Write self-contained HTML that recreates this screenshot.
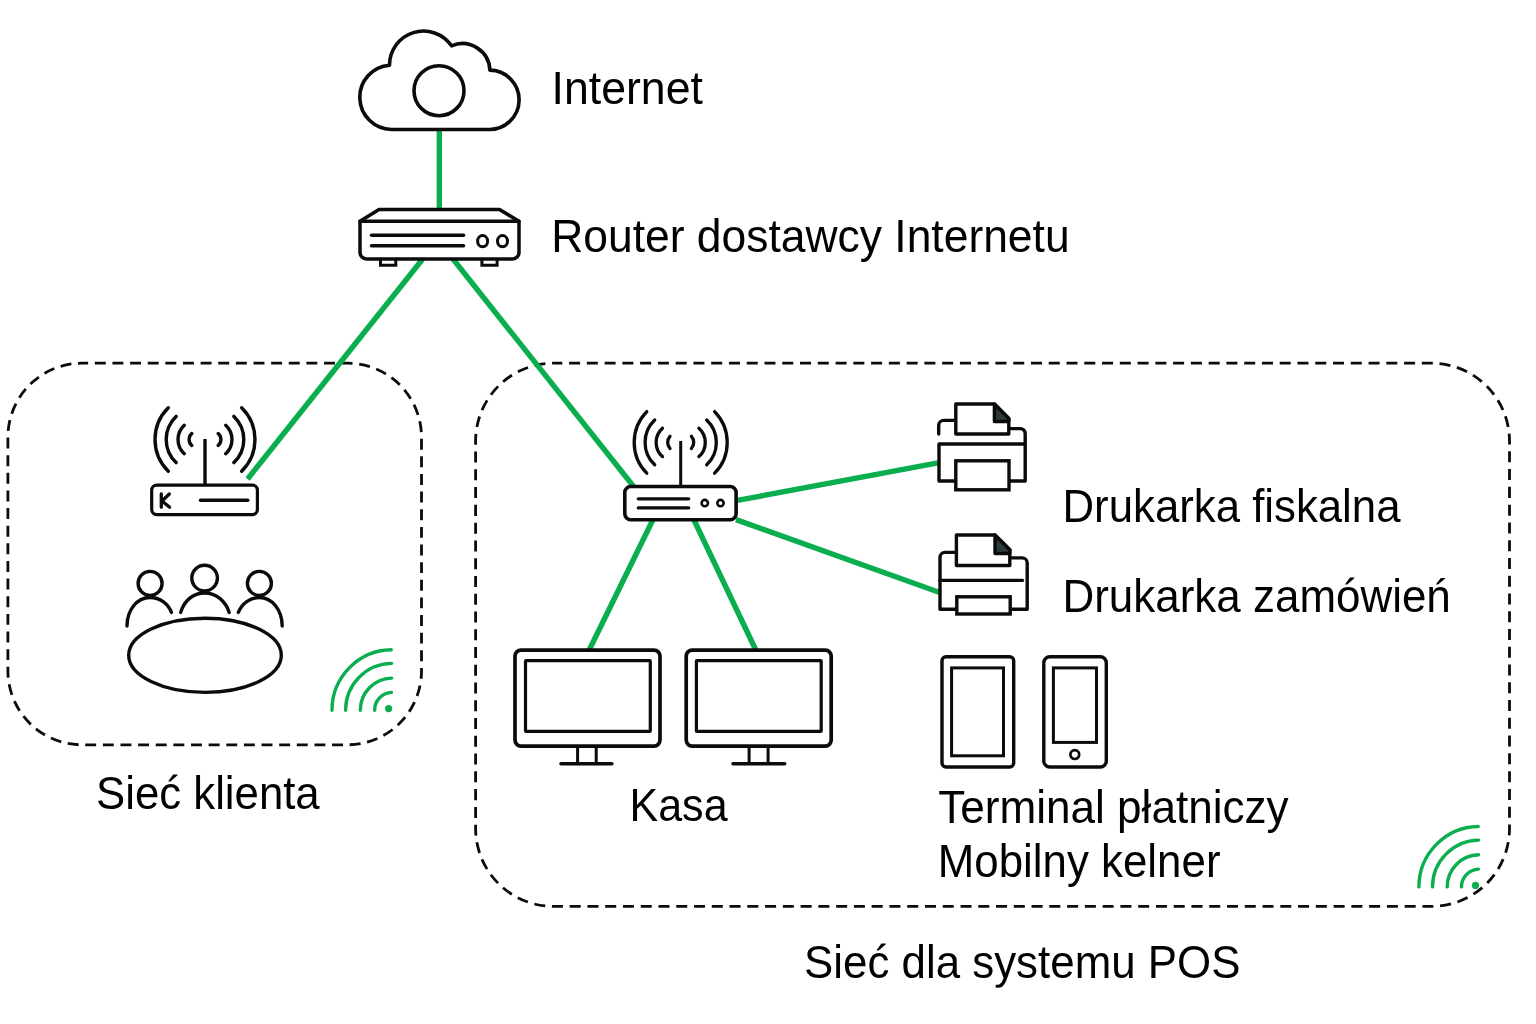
<!DOCTYPE html>
<html><head><meta charset="utf-8">
<style>
html,body{margin:0;padding:0;background:#fff;}
body{width:1536px;height:1024px;overflow:hidden;}
svg{display:block;}
text{font-family:"Liberation Sans",sans-serif;font-size:45.5px;fill:#000;}
.k{stroke:#0b0b0b;fill:none;stroke-linecap:round;stroke-linejoin:round;}
.g{stroke:#0aae4e;fill:none;}
</style></head><body>
<svg width="1536" height="1024" viewBox="0 0 1536 1024">
<rect width="1536" height="1024" fill="#fff"/>

<!-- dashed boxes -->
<rect x="7.9" y="363.2" width="413.6" height="381.6" rx="74" ry="74" fill="none" stroke="#0b0b0b" stroke-width="2.8" stroke-dasharray="10.931 6.700" stroke-dashoffset="4.7"/>
<rect x="475.6" y="363.2" width="1033.9" height="543.2" rx="78" ry="78" fill="none" stroke="#0b0b0b" stroke-width="2.8" stroke-dasharray="11.015 6.751" stroke-dashoffset="2.3"/>

<!-- green links -->
<g class="g" stroke-width="5.4">
<line x1="439.3" y1="130" x2="439.3" y2="210"/>
<line x1="422.7" y1="259" x2="247.6" y2="479"/>
<line x1="453" y1="259" x2="634" y2="487"/>
<line x1="736" y1="500.7" x2="938" y2="462.8"/>
<line x1="736" y1="519.6" x2="939" y2="592.3"/>
<line x1="652.8" y1="520" x2="589.2" y2="650"/>
<line x1="694" y1="520" x2="755.8" y2="650"/>
</g>

<!-- cloud -->
<g class="k" stroke-width="3.6">
<path fill="#fff" d="M391.6,129.5 H488.9 A29.7,29.7 0 0 0 489.9,70.1 A27.6,27.6 0 0 0 451.5,45.8 A34.0,34.0 0 0 0 389.5,65.2 A32.2,32.2 0 0 0 391.6,129.5 Z"/>
<circle cx="439" cy="90.7" r="25"/>
</g>

<!-- ISP router -->
<g class="k" stroke-width="3.5">
<path fill="#fff" d="M380.5,259 V265.3 H395.8 V259 M481.9,259 V265.3 H497.1 V259" stroke-width="3" stroke-linejoin="miter"/>
<path fill="#fff" d="M360,221.3 L379,209.5 H499.5 L519,221.3 V252.5 A6.5,6.5 0 0 1 512.5,259 H366.5 A6.5,6.5 0 0 1 360,252.5 Z"/>
<line x1="360" y1="221.3" x2="519" y2="221.3"/>
<line x1="371.5" y1="235.3" x2="463.5" y2="235.3"/>
<line x1="371.5" y1="245.7" x2="463.5" y2="245.7"/>
<ellipse cx="482.6" cy="241.2" rx="5" ry="5.6" stroke-width="3"/>
<ellipse cx="502.5" cy="241.2" rx="5" ry="5.6" stroke-width="3"/>
</g>

<!-- client router -->
<g class="k" stroke-width="3.4">
<path d="M168.3,407.7 A44.7,44.7 0 0 0 168.3,471.3 M241.7,407.7 A44.7,44.7 0 0 1 241.7,471.3 M176.1,416.4 A31.9,31.9 0 0 0 176.1,462.6 M233.9,416.4 A31.9,31.9 0 0 1 233.9,462.6 M184.3,425.3 A19.2,19.2 0 0 0 184.3,453.7 M225.7,425.3 A19.2,19.2 0 0 1 225.7,453.7 M191.8,433.5 A8.0,8.0 0 0 0 191.8,445.5 M218.2,433.5 A8.0,8.0 0 0 1 218.2,445.5"/>
<line x1="205" y1="439" x2="205" y2="485" stroke-linecap="butt"/>
<rect x="151.7" y="485.1" width="105.7" height="29.5" rx="5" fill="#fff" stroke-width="3.2"/>
<line x1="200.5" y1="500.3" x2="247.8" y2="500.3"/>
<path d="M161.3,494 V507.2 M169.3,494 L162,501 L169.6,507.2" stroke-width="3.3"/>
</g>
<!-- POS router -->
<g class="k" stroke-width="3.3">
<path d="M646.8,411.6 A43.9,43.9 0 0 0 646.8,473.2 M714.6,411.6 A43.9,43.9 0 0 1 714.6,473.2 M654.7,420.0 A30.9,30.9 0 0 0 654.7,464.8 M706.7,420.0 A30.9,30.9 0 0 1 706.7,464.8 M662.5,428.2 A19.0,19.0 0 0 0 662.5,456.6 M698.9,428.2 A19.0,19.0 0 0 1 698.9,456.6 M670.0,436.3 A9.2,9.2 0 0 0 670.0,448.5 M691.4,436.3 A9.2,9.2 0 0 1 691.4,448.5"/>
<line x1="680.7" y1="441" x2="680.7" y2="486" stroke-linecap="butt" stroke-width="3"/>
<rect x="624.8" y="486.5" width="111.3" height="33.3" rx="6" fill="#fff" stroke-width="3.6"/>
<line x1="638.3" y1="498.8" x2="688.7" y2="498.8"/>
<line x1="638.3" y1="507.9" x2="688.7" y2="507.9"/>
<circle cx="704.8" cy="503.1" r="3.2" stroke-width="2.6"/>
<circle cx="720.5" cy="503.1" r="3.2" stroke-width="2.6"/>
</g>
<!-- people -->
<g class="k" stroke-width="3.4">
<circle cx="150.1" cy="583.4" r="12"/><circle cx="204.6" cy="578.1" r="12.8"/><circle cx="259.4" cy="583.4" r="12"/>
<path d="M127,626 C127,610 137,597.5 150,597.5 C160,597.5 168,603.5 171.5,612.4"/>
<path d="M180.7,612.4 C184,601 193,593 204.6,593 C216,593 225.5,601 229.2,612.4"/>
<path d="M238.3,612.4 C242,603.5 250,597.5 259.4,597.5 C272,597.5 282.2,610 282.2,626"/>
<ellipse cx="205" cy="655.3" rx="76.3" ry="37.1" fill="#fff"/>
</g>
<!-- wifi -->
<g class="g" stroke-width="3.4" stroke-linecap="round">
<path d="M374.6,710.2 A17.8,17.8 0 0 1 391.5,692.4 M360.3,710.2 A32.1,32.1 0 0 1 391.6,678.1 M345.6,710.2 A46.8,46.8 0 0 1 391.6,663.4 M332.0,710.2 A60.4,60.4 0 0 1 391.3,649.8"/><circle cx="388.6" cy="708.6" r="3.6" fill="#0aae4e" stroke="none"/>
<path d="M1461.5,886.9 A17.8,17.8 0 0 1 1478.4,869.1 M1447.2,886.9 A32.1,32.1 0 0 1 1478.5,854.8 M1432.5,886.9 A46.8,46.8 0 0 1 1478.5,840.1 M1418.9,886.9 A60.4,60.4 0 0 1 1478.2,826.5"/><circle cx="1475.5" cy="885.4" r="3.6" fill="#0aae4e" stroke="none"/>
</g>
<!-- monitors -->
<g class="k">
<rect x="515" y="650.1" width="145" height="96" rx="6" fill="#fff" stroke-width="3.7"/>
<rect x="525.5" y="660.7" width="124.8" height="70.7" rx="0.5" stroke-width="3.2" stroke-linejoin="miter"/>
<path d="M577.6,748 V763.7 M596.2,748 V763.7" stroke-width="3" stroke-linecap="butt"/>
<line x1="561" y1="763.7" x2="611.8" y2="763.7" stroke-width="3.5"/>
<rect x="686.2" y="650.1" width="145" height="96" rx="6" fill="#fff" stroke-width="3.7"/>
<rect x="696.4" y="660.7" width="124.8" height="70.7" rx="0.5" stroke-width="3.2" stroke-linejoin="miter"/>
<path d="M749.1,748 V763.7 M768.1,748 V763.7" stroke-width="3" stroke-linecap="butt"/>
<line x1="733" y1="763.7" x2="784.7" y2="763.7" stroke-width="3.5"/>
</g>
<!-- printer 1 -->
<g class="k" stroke-width="3.4">
<path d="M938.7,434 V425.4 A5,5 0 0 1 943.7,420.4 H955.8"/>
<path d="M1008.8,428.6 H1020.2 A5,5 0 0 1 1025.2,433.6 V481 H1009"/>
<path d="M955.8,481 H939 V444 H1025.2" />
<rect x="955.8" y="460.8" width="53.2" height="29" fill="#fff" stroke-linejoin="miter"/>
<path d="M955.8,404 H994.4 L1008.8,418.4 V434 H955.8 Z" fill="#fff"/>
<path d="M994.4,404 V421.5 H1008.8 V418.4 Z" fill="#2c393d"/>
</g>
<!-- printer 2 -->
<g class="k" stroke-width="3.4">
<path d="M956.4,552.4 H945 A5,5 0 0 0 940,557.4 V609.3 H956.8"/>
<path d="M1009.8,557.9 H1022.2 A5,5 0 0 1 1027.2,562.9 V609.3 H1010.2"/>
<line x1="940" y1="580.4" x2="1022.5" y2="580.4"/>
<rect x="956.8" y="596.8" width="53.4" height="17.2" fill="#fff" stroke-linejoin="miter"/>
<path d="M956.4,535 H995 L1009.8,549.8 V565.5 H956.4 Z" fill="#fff"/>
<path d="M995,535 V553.5 H1009.8 V549.8 Z" fill="#2c393d"/>
</g>
<!-- tablet/phone -->
<g class="k" stroke-width="3.4">
<rect x="942" y="656.8" width="71.7" height="110.2" rx="4" fill="#fff"/>
<rect x="951.6" y="667.9" width="51.9" height="87.9" stroke-width="3" stroke-linejoin="miter"/>
<rect x="1043.8" y="656.8" width="62.5" height="110.2" rx="6" fill="#fff"/>
<rect x="1053.4" y="667.9" width="43.1" height="74.5" stroke-width="3" stroke-linejoin="miter"/>
<circle cx="1074.8" cy="754.6" r="4.4" stroke-width="2.7"/>
</g>
<!-- labels -->
<g id="labels" style="opacity:0.999">
<text transform="translate(551.5,104.2) scale(0.9814,1)">Internet</text>
<text transform="translate(551.2,251.7) scale(0.9763,1)">Router dostawcy Internetu</text>
<text transform="translate(1062.5,522) scale(0.9621,1)">Drukarka fiskalna</text>
<text transform="translate(1062.5,611.7) scale(0.9662,1)">Drukarka zamówień</text>
<text transform="translate(96.0,809.4) scale(0.9617,1)">Sieć klienta</text>
<text transform="translate(629.5,820.5) scale(0.946,1)">Kasa</text>
<text transform="translate(938.2,822.7) scale(0.9694,1)">Terminal płatniczy</text>
<text transform="translate(937.8,876.5) scale(0.964,1)">Mobilny kelner</text>
<text transform="translate(804.0,977.7) scale(0.9643,1)">Sieć dla systemu POS</text>
</g>
</svg>
</body></html>
